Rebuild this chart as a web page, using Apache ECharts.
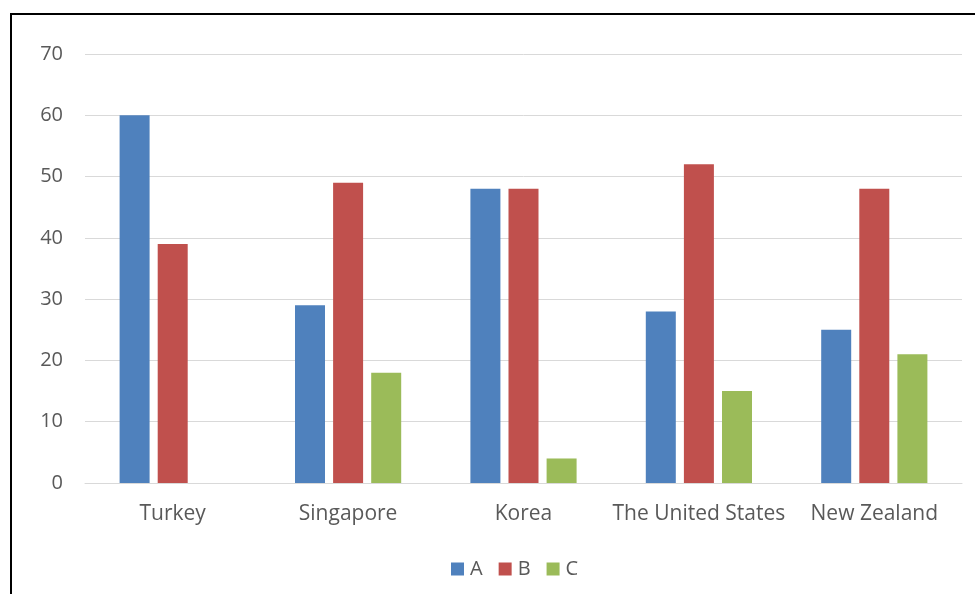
<!DOCTYPE html>
<html>
<head>
<meta charset="utf-8">
<script src="https://cdn.jsdelivr.net/npm/echarts@6/dist/echarts.min.js"></script>
<style>
html,body{margin:0;padding:0;background:#fff;}
#chart{width:975px;height:594px;}
</style>
</head>
<body>
<div id="chart"></div>
<script>
const categories = ['Turkey', 'Singapore', 'Korea', 'The United States', 'New Zealand'];
const seriesA = [60, 29, 48, 28, 25];
const seriesB = [39, 49, 48, 52, 48];
const seriesC = [0, 18, 4, 15, 21];
const yTicks = [0, 10, 20, 30, 40, 50, 60, 70];

const font = '"Open Sans", "Noto Sans", sans-serif';
const chart = echarts.init(document.getElementById('chart'), null, {renderer: 'canvas'});
chart.setOption({
  animation: false,
  backgroundColor: '#fff',
  color: ['#4F81BD', '#C0504D', '#9BBB59'],
  graphic: [{
    type: 'rect',
    shape: {x: 11, y: 14, width: 1200, height: 1200},
    style: {fill: 'none', stroke: '#000', lineWidth: 2},
    silent: true
  }],
  grid: {left: 85, right: 13, top: 54, bottom: 111, containLabel: false},
  legend: {
    bottom: 10,
    left: 446,
    itemWidth: 13,
    itemHeight: 13,
    itemGap: 16,
    icon: 'rect',
    textStyle: {color: '#595959', fontSize: 20, fontFamily: font, padding: [0, 0, 0, 1]},
    data: ['A', 'B', 'C']
  },
  xAxis: {
    type: 'category',
    data: categories,
    axisLine: {show: true, lineStyle: {color: '#d9d9d9', width: 1}},
    axisTick: {show: false},
    axisLabel: {color: '#595959', fontSize: 21, fontFamily: font, margin: 21, interval: 0}
  },
  yAxis: {
    type: 'value',
    min: yTicks[0],
    max: yTicks[yTicks.length - 1],
    interval: 10,
    axisLine: {show: false},
    axisTick: {show: false},
    splitLine: {lineStyle: {color: '#d9d9d9', width: 1}},
    axisLabel: {color: '#595959', fontSize: 20, fontFamily: font, margin: 22}
  },
  series: [
    {name: 'A', type: 'bar', data: seriesA, barWidth: 30, barGap: '27%'},
    {name: 'B', type: 'bar', data: seriesB, barWidth: 30, barGap: '27%'},
    {name: 'C', type: 'bar', data: seriesC, barWidth: 30, barGap: '27%'}
  ]
});
</script>
</body>
</html>
